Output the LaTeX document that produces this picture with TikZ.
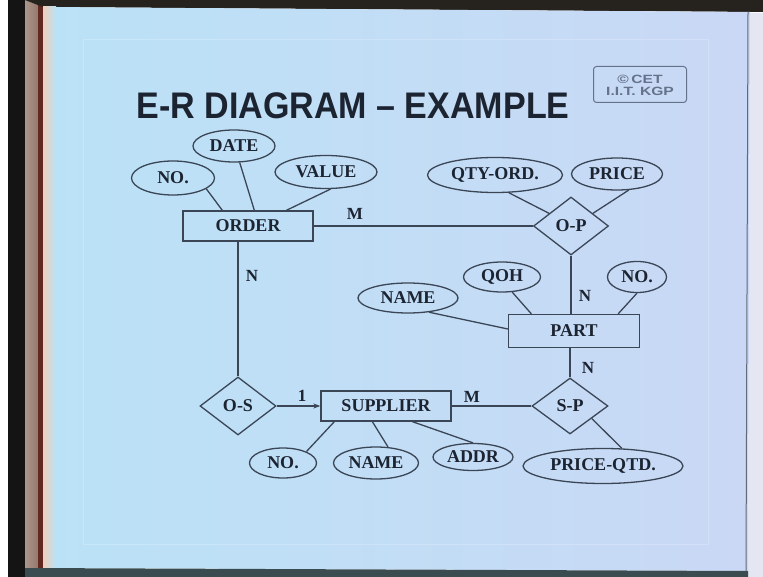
\documentclass[tikz,border=0pt]{standalone}
\usepackage{fontspec}
\setmainfont{Liberation Serif}
\newfontfamily\titlefont{Liberation Sans}
\usetikzlibrary{shapes.geometric,arrows.meta}
\definecolor{slideL}{RGB}{186,226,246}
\definecolor{slideR}{RGB}{202,216,245}
\definecolor{peach}{RGB}{240,206,184}
\definecolor{wood}{RGB}{150,118,106}
\definecolor{woodL}{RGB}{170,150,140}
\definecolor{woodline}{RGB}{96,40,32}
\definecolor{band}{RGB}{38,34,30}
\definecolor{rstrip}{RGB}{228,230,242}
\definecolor{bdark}{RGB}{58,76,80}
\definecolor{ink}{RGB}{28,36,50}
\definecolor{edge}{RGB}{58,70,86}
\definecolor{cet}{RGB}{100,114,138}
\tikzset{
  txt/.style={text=ink,font=\fontsize{18}{20}\selectfont\bfseries,inner sep=0pt},
  entity/.style={txt,draw=edge,line width=1.3pt,rectangle},
  rel/.style={txt,draw=edge,line width=1.3pt,shape=diamond,aspect=1.3},
  attr/.style={txt,draw=edge,line width=1.3pt,shape=ellipse},
  conn/.style={draw=edge,line width=1.3pt},
  card/.style={text=ink,font=\fontsize{17}{19}\selectfont\bfseries,inner sep=0pt},
  logotxt/.style={text=cet,font=\titlefont\fontsize{12}{13}\selectfont\bfseries,inner sep=0pt,xscale=1.3}
}
\begin{document}
\begin{tikzpicture}[x=1pt,y=-1pt]
\useasboundingbox (0,0) rectangle (763,577);
% photo surroundings
\fill[white] (0,0) rectangle (763,577);
\fill[black!92] (8,0) rectangle (25,577);
\shade[left color=woodL,right color=wood] (25,0) rectangle (39,577);
\fill[woodline] (38,0) rectangle (43,577);
\fill[band] (25,0) -- (763,0) -- (763,12) -- (43,7) -- cycle;
\fill[rstrip] (750,13) -- (763,13) -- (763,577) -- (748,577) -- cycle;
\shade[left color=slideL,right color=slideR] (43,7) -- (750,12) -- (748,571) -- (43,568) -- cycle;
\shade[left color=peach,right color=slideL] (43,7) rectangle (56,568);
\fill[bdark] (25,568) -- (748,571) -- (748,577) -- (25,577) -- cycle;
\draw[edge!80,line width=1pt] (748,12) -- (746,571);
\draw[white,opacity=0.2,line width=0.8pt] (83,39) rectangle (708,544);
% title and logo
\node[inner sep=0pt,text=ink,font=\titlefont\fontsize{37}{40}\selectfont\bfseries,xscale=0.92] (title) at (353,106) {E-R DIAGRAM – EXAMPLE};
\node[draw=cet,line width=1pt,rounded corners=3pt,minimum width=93pt,minimum height=36pt,inner sep=0pt] (logo) at (640,84.5) {};
\node[logotxt] (logo1) at (640,79.5) {\textcopyright\,CET};
\node[logotxt] (logo2) at (640,91.5) {I.I.T. KGP};
% entities
\node[entity,minimum width=130pt,minimum height=30pt] (order) at (248,226) {ORDER};
\node[entity,minimum width=131pt,minimum height=33pt] (part) at (574,331) {PART};
\node[entity,minimum width=130pt,minimum height=30pt] (supplier) at (386,406) {SUPPLIER};
% relationships
\node[rel,minimum width=75pt,minimum height=58pt] (op) at (571,226) {O-P};
\node[rel,minimum width=76pt,minimum height=58pt] (os) at (238,406) {O-S};
\node[rel,minimum width=76pt,minimum height=56pt] (sp) at (570,406) {S-P};
% attributes
\node[attr,minimum width=83pt,minimum height=34pt] (onum) at (173,178) {NO.};
\node[attr,minimum width=82pt,minimum height=32pt] (date) at (234,146) {DATE};
\node[attr,minimum width=102pt,minimum height=33pt] (value) at (326,172) {VALUE};
\node[attr,minimum width=135pt,minimum height=35pt] (qty) at (495,175) {QTY-ORD.};
\node[attr,minimum width=91pt,minimum height=32pt] (price) at (617,174) {PRICE};
\node[attr,minimum width=77pt,minimum height=30pt] (qoh) at (502,277) {QOH};
\node[attr,minimum width=59pt,minimum height=31pt] (pnum) at (637,277) {NO.};
\node[attr,minimum width=100pt,minimum height=30pt] (pname) at (408,298) {NAME};
\node[attr,minimum width=67pt,minimum height=30pt] (snum) at (283,463) {NO.};
\node[attr,minimum width=85pt,minimum height=32pt] (sname) at (376,463) {NAME};
\node[attr,minimum width=80pt,minimum height=27pt] (addr) at (473,457) {ADDR};
\node[attr,minimum width=160pt,minimum height=35pt] (pqtd) at (603,466) {PRICE-QTD.};
% relationship connectors
\draw[conn] (order.east) -- (op.west);
\draw[conn] ([xshift=-10pt]order.south) -- (os.north);
\draw[conn,-{Stealth[length=7pt,width=5pt]}] (os.east) -- (os.east -| supplier.west);
\draw[conn] (supplier.east) -- (sp.west);
\draw[conn] (op.south) -- (op.south |- part.north);
\draw[conn] (sp.north) -- (sp.north |- part.south);
% attribute connectors
\draw[conn] (onum.-18) -- ([xshift=40pt]order.north west);
\draw[conn] (date.-71) -- ([xshift=72pt]order.north west);
\draw[conn] (value.-75) -- ([xshift=104pt]order.north west);
\draw[conn] (qty.-52) -- (op.150);
\draw[conn] (price.-54) -- (op.30);
\draw[conn] (qoh.-56) -- ([xshift=23.5pt]part.north west);
\draw[conn] (pnum.south) -- ([xshift=-22pt]part.north east);
\draw[conn] (pname.-34) -- ([yshift=2pt]part.west);
\draw[conn] (snum.26) -- ([xshift=14pt]supplier.south west);
\draw[conn] (sname.53) -- ([xshift=52pt]supplier.south west);
\draw[conn] (addr.north) -- ([xshift=92pt]supplier.south west);
\draw[conn] (pqtd.43) -- (sp.-30);
% cardinalities
\node[card] (m1) at (355,214) {M};
\node[card] (n1) at (252,276) {N};
\node[card] (n2) at (585,296) {N};
\node[card] (n3) at (588,368) {N};
\node[card] (one) at (302,396) {1};
\node[card] (m2) at (472,397) {M};
\end{tikzpicture}
\end{document}
